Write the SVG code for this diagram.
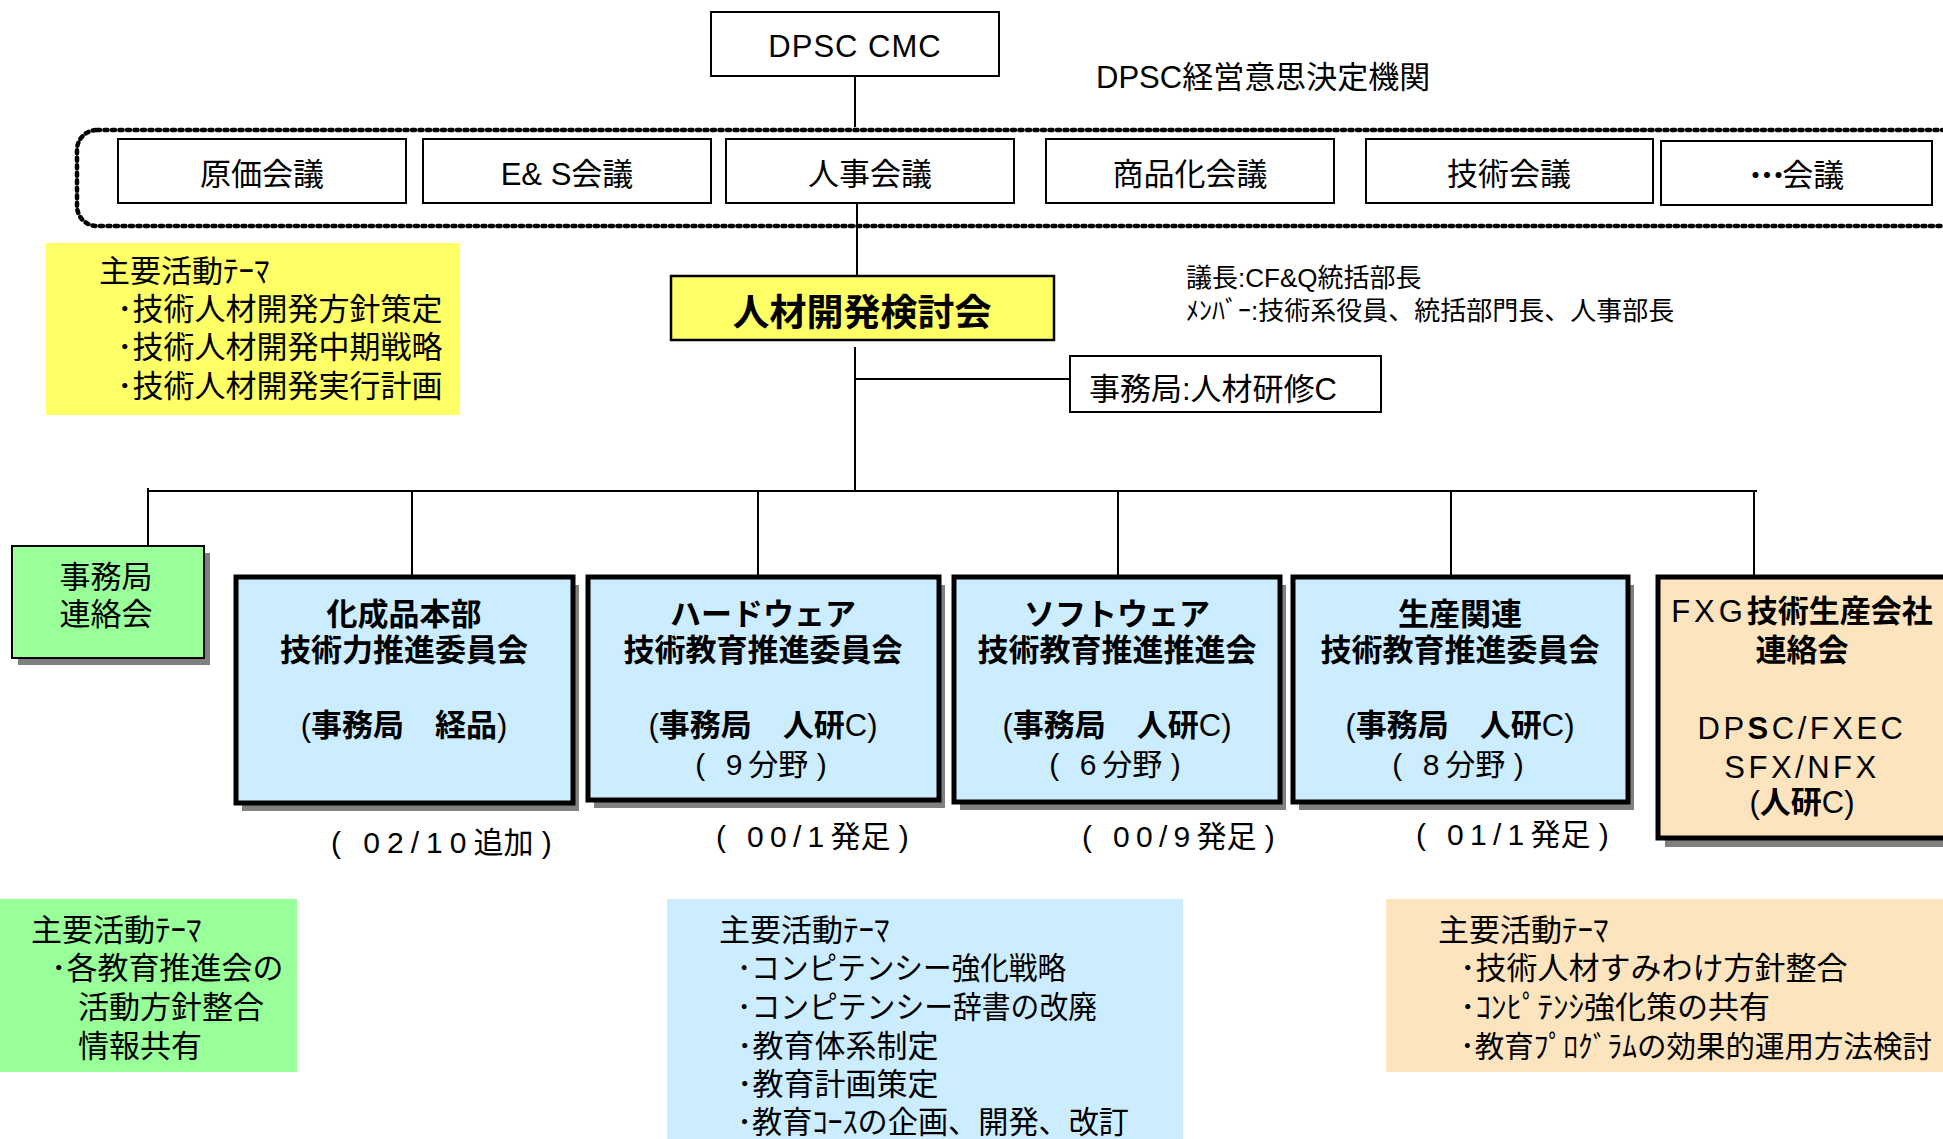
<svg xmlns="http://www.w3.org/2000/svg" width="1943" height="1139" viewBox="0 0 1943 1139">
<style>
text{font-family:"Liberation Sans","Noto Sans CJK JP",sans-serif;fill:#000}
.f31{font-size:31px}
.f30{font-size:30px}
.f26{font-size:26px}
.b{font-weight:bold}
.n{font-weight:normal}
.mid{text-anchor:middle}
.box{fill:#fff;stroke:#000;stroke-width:2}
.blue{fill:#CCECFF;stroke:#000;stroke-width:5}
.sh{fill:#808080}
#connectors line{stroke:#000;stroke-width:2}
</style>
<rect width="1943" height="1139" fill="#fff"/>

<!-- theme areas -->
<g id="theme-top">
<rect x="46" y="243" width="414" height="172" fill="#FFFF66"/>
<text class="f31" x="99" y="282">主要活動ﾃｰﾏ</text>
<text class="f31" x="117" y="320">･技術人材開発方針策定</text>
<text class="f31" x="117" y="358">･技術人材開発中期戦略</text>
<text class="f31" x="117" y="397">･技術人材開発実行計画</text>
</g>
<g id="theme-green">
<rect x="0" y="899" width="297" height="173" fill="#99FF99"/>
<text class="f31" x="31" y="941">主要活動ﾃｰﾏ</text>
<text class="f31" x="51" y="979">･各教育推進会の</text>
<text class="f31" x="78" y="1018">活動方針整合</text>
<text class="f31" x="78" y="1057">情報共有</text>
</g>
<g id="theme-blue">
<rect x="667" y="899" width="516" height="250" fill="#CCECFF"/>
<text class="f31" x="719" y="941">主要活動ﾃｰﾏ</text>
<text class="f31" x="737" y="979" textLength="329" lengthAdjust="spacingAndGlyphs">･コンピテンシー強化戦略</text>
<text class="f31" x="737" y="1018" textLength="360" lengthAdjust="spacingAndGlyphs">･コンピテンシー辞書の改廃</text>
<text class="f31" x="737" y="1057">･教育体系制定</text>
<text class="f31" x="737" y="1095">･教育計画策定</text>
<text class="f31" x="737" y="1133" textLength="392" lengthAdjust="spacingAndGlyphs">･教育ｺｰｽの企画、開発、改訂</text>
</g>
<g id="theme-orange">
<rect x="1386" y="899" width="570" height="173" fill="#FCE4BE"/>
<text class="f31" x="1438" y="941">主要活動ﾃｰﾏ</text>
<text class="f31" x="1460" y="979">･技術人材すみわけ方針整合</text>
<text class="f31" x="1460" y="1018">･ｺﾝﾋﾟﾃﾝｼ強化策の共有</text>
<text x="1460" y="1057" font-size="29.5">･教育ﾌﾟﾛｸﾞﾗﾑの効果的運用方法検討</text>
</g>

<!-- connectors -->
<g id="connectors">
<line x1="855" y1="76" x2="855" y2="127"/>
<line x1="857" y1="203" x2="857" y2="275"/>
<line x1="855" y1="347" x2="855" y2="491"/>
<line x1="855" y1="379" x2="1070" y2="379"/>
<line x1="148" y1="491" x2="1757" y2="491"/>
<line x1="148" y1="488" x2="148" y2="547"/>
<line x1="412" y1="491" x2="412" y2="577"/>
<line x1="758" y1="491" x2="758" y2="577"/>
<line x1="1118" y1="491" x2="1118" y2="577"/>
<line x1="1451" y1="491" x2="1451" y2="577"/>
<line x1="1754" y1="491" x2="1754" y2="577"/>
</g>

<g id="cmc">
<rect class="box" x="711" y="12" width="288" height="64"/>
<text class="f31 mid" x="855" y="57" letter-spacing="1">DPSC CMC</text>
</g>
<text id="cmc-label" x="1096" y="88" font-size="31">DPSC経営意思決定機関</text>

<g id="meetings">
<rect x="77" y="130" width="1900" height="96" rx="20" fill="none" stroke="#000" stroke-width="4.5" stroke-dasharray="3 4.5" stroke-linecap="round"/>
<g id="m1"><rect class="box" x="118" y="139" width="288" height="64"/><text class="f31 mid" x="262" y="185">原価会議</text></g>
<g id="m2"><rect class="box" x="423" y="139" width="288" height="64"/><text class="f31 mid" x="567" y="185">E&amp; S会議</text></g>
<g id="m3"><rect class="box" x="726" y="139" width="288" height="64"/><text class="f31 mid" x="870" y="185">人事会議</text></g>
<g id="m4"><rect class="box" x="1046" y="139" width="288" height="64"/><text class="f31 mid" x="1190" y="185">商品化会議</text></g>
<g id="m5"><rect class="box" x="1366" y="139" width="287" height="64"/><text class="f31 mid" x="1509" y="185">技術会議</text></g>
<g id="m6"><rect class="box" x="1661" y="141" width="271" height="64" stroke-width="3"/><text class="f31 mid" x="1796" y="186"><tspan class="b" letter-spacing="-4">･･･</tspan>会議</text></g>
</g>

<g id="jinzai">
<rect x="671" y="276" width="383" height="64" fill="#FFFF66" stroke="#000" stroke-width="2.5"/>
<text class="b mid" x="862" y="326" font-size="37">人材開発検討会</text>
</g>
<g id="members">
<text class="f26" x="1186" y="287">議長:CF&amp;Q統括部長</text>
<text class="f26" x="1186" y="320">ﾒﾝﾊﾞｰ:技術系役員、統括部門長、人事部長</text>
</g>
<g id="secretariat">
<rect class="box" x="1070" y="356" width="311" height="56"/>
<text class="f31" x="1089" y="400">事務局:人材研修C</text>
</g>

<g id="renrakukai">
<rect class="sh" x="18" y="553" width="192" height="112"/>
<rect x="12" y="546" width="192" height="112" fill="#99FF99" stroke="#000" stroke-width="2"/>
<text class="f31 mid" x="106" y="588">事務局</text>
<text class="f31 mid" x="106" y="625">連絡会</text>
</g>

<g id="kasei">
<rect class="sh" x="242" y="585" width="337" height="226"/>
<rect class="blue" x="236" y="577" width="337" height="226"/>
<text class="f31 b mid" x="404" y="625">化成品本部</text>
<text class="f31 b mid" x="404" y="661">技術力推進委員会</text>
<text class="f31 mid" x="404" y="736"><tspan class="n">(</tspan><tspan class="b">事務局　経品</tspan><tspan class="n">)</tspan></text>
</g>
<text id="date1" class="f30" x="331" y="853"><tspan letter-spacing="7">( 02/10</tspan>追加 )</text>

<g id="hardware">
<rect class="sh" x="594" y="585" width="351" height="223"/>
<rect class="blue" x="588" y="577" width="351" height="223"/>
<text class="f31 b mid" x="763" y="625">ハードウェア</text>
<text class="f31 b mid" x="763" y="661">技術教育推進委員会</text>
<text class="f31 mid" x="763" y="736"><tspan class="n">(</tspan><tspan class="b">事務局　人研</tspan><tspan class="n">C)</tspan></text>
<text class="f30 mid" x="763" y="775"><tspan letter-spacing="6">( 9</tspan>分野 <tspan letter-spacing="4"> )</tspan></text>
</g>
<text id="date2" class="f30" x="716" y="847"><tspan letter-spacing="6.3">( 00/1</tspan>発足 )</text>

<g id="software">
<rect class="sh" x="960" y="585" width="326" height="225"/>
<rect class="blue" x="954" y="577" width="326" height="225"/>
<text class="f31 b mid" x="1117" y="625">ソフトウェア</text>
<text class="f31 b mid" x="1117" y="661">技術教育推進推進会</text>
<text class="f31 mid" x="1117" y="736"><tspan class="n">(</tspan><tspan class="b">事務局　人研</tspan><tspan class="n">C)</tspan></text>
<text class="f30 mid" x="1117" y="775"><tspan letter-spacing="6">( 6</tspan>分野 <tspan letter-spacing="4"> )</tspan></text>
</g>
<text id="date3" class="f30" x="1082" y="847"><tspan letter-spacing="6.3">( 00/9</tspan>発足 )</text>

<g id="seisan">
<rect class="sh" x="1299" y="585" width="335" height="225"/>
<rect class="blue" x="1293" y="577" width="335" height="225"/>
<text class="f31 b mid" x="1460" y="625">生産関連</text>
<text class="f31 b mid" x="1460" y="661">技術教育推進委員会</text>
<text class="f31 mid" x="1460" y="736"><tspan class="n">(</tspan><tspan class="b">事務局　人研</tspan><tspan class="n">C)</tspan></text>
<text class="f30 mid" x="1460" y="775"><tspan letter-spacing="6">( 8</tspan>分野 <tspan letter-spacing="4"> )</tspan></text>
</g>
<text id="date4" class="f30" x="1416" y="845"><tspan letter-spacing="6.3">( 01/1</tspan>発足 )</text>

<g id="fxg">
<rect class="sh" x="1665" y="585" width="320" height="262"/>
<rect x="1658" y="577" width="320" height="261" fill="#FCE4BE" stroke="#000" stroke-width="5"/>
<text class="f31 mid" x="1802" y="622"><tspan class="n" letter-spacing="4">FXG</tspan><tspan class="b">技術生産会社</tspan></text>
<text class="f31 b mid" x="1802" y="661">連絡会</text>
<text class="f31 mid" x="1802" y="739" letter-spacing="3.5"><tspan class="n">DP</tspan><tspan class="b">S</tspan><tspan class="n">C/FXEC</tspan></text>
<text class="f31 mid" x="1802" y="778" letter-spacing="3.5">SFX/NFX</text>
<text class="f31 mid" x="1802" y="813"><tspan class="n">(</tspan><tspan class="b">人研</tspan><tspan class="n">C)</tspan></text>
</g>
</svg>
